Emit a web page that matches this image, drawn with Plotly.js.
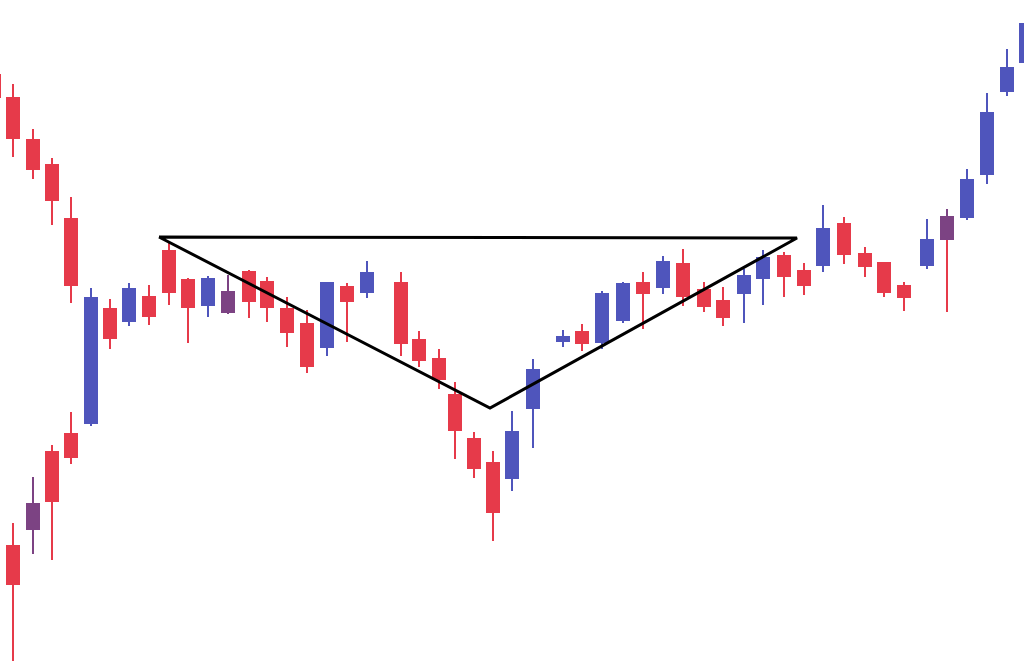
<!DOCTYPE html>
<html>
<head>
<meta charset="utf-8">
<script src="https://cdn.plot.ly/plotly-3.0.1.min.js"></script>
<style>html,body{margin:0;padding:0;background:#fff;}#chart{width:1024px;height:666px;}</style>
</head>
<body>
<div id="chart"></div>
<script>
// Red candles
const redX     = [-6, 13, 33, 52, 71, 13, 52, 71, 110, 149, 169, 188, 249, 267, 287, 307, 347, 401, 419, 439, 455, 474, 493, 582, 643, 683, 704, 723, 784, 804, 844, 865, 884, 904, 947];
const redOpen  = [591, 568, 526, 501, 447, 120, 214, 232, 357, 369, 415, 386, 394, 384, 357, 342, 379, 383, 326, 307, 271, 227, 203, 334, 383, 402, 376, 365, 410, 395, 442, 412, 403, 380, 438];
const redHigh  = [598, 582, 537, 508, 469, 143, 221, 254, 367, 381, 423, 388, 396, 389, 369, 356, 383, 394, 335, 317, 284, 234, 215, 342, 394, 417, 384, 379, 414, 403, 449, 419, 404, 384, 438];
const redLow   = [561, 509, 487, 441, 363, 5, 106, 202, 317, 341, 361, 323, 348, 344, 319, 293, 324, 310, 299, 277, 207, 188, 125, 315, 337, 360, 354, 340, 369, 371, 402, 389, 369, 355, 354];
const redClose = [569, 528, 497, 466, 381, 82, 165, 209, 328, 350, 374, 359, 365, 359, 334, 300, 365, 323, 306, 287, 236, 198, 154, 323, 373, 370, 360, 349, 390, 381, 412, 400, 374, 369, 438];

// Blue candles
const blueX     = [91, 129, 208, 327, 367, 512, 533, 563, 602, 623, 663, 744, 763, 823, 927, 967, 987, 1007, 1026];
const blueOpen  = [243, 345, 361, 319, 374, 188, 258, 325, 324, 346, 379, 373, 388, 401, 401, 449, 492, 575, 604];
const blueHigh  = [378, 383, 390, 384, 405, 255, 307, 336, 375, 384, 410, 397, 416, 461, 447, 497, 573, 617, 651];
const blueLow   = [240, 340, 349, 310, 368, 175, 218, 319, 317, 343, 372, 343, 361, 394, 397, 446, 482, 570, 600];
const blueClose = [368, 377, 387, 383, 393, 234, 296, 329, 372, 382, 404, 390, 408, 437, 426, 486, 553, 598, 642];

// Purple candles
const purpleX     = [33, 228, 947];
const purpleOpen  = [137, 354, 427];
const purpleHigh  = [189, 391, 457];
const purpleLow   = [112, 352, 427];
const purpleClose = [162, 374, 449];

// Pattern outline (triangle)
const patternX = [159, 490, 797, 159];
const patternY = [429, 258, 428, 429];

const RED = '#e63a4a', BLUE = '#4f55bc', PURPLE = '#7c4383';

function candle(x, o, h, l, c, color) {
  return {
    type: 'candlestick', x: x, open: o, high: h, low: l, close: c,
    increasing: {line: {color: color, width: 2}, fillcolor: color},
    decreasing: {line: {color: color, width: 2}, fillcolor: color},
    whiskerwidth: 0, hoverinfo: 'skip', showlegend: false
  };
}

const data = [
  candle(redX, redOpen, redHigh, redLow, redClose, RED),
  candle(blueX, blueOpen, blueHigh, blueLow, blueClose, BLUE),
  candle(purpleX, purpleOpen, purpleHigh, purpleLow, purpleClose, PURPLE),
  {type: 'scatter', mode: 'lines', x: patternX, y: patternY,
   line: {color: '#000', width: 3}, hoverinfo: 'skip', showlegend: false}
];

const layout = {
  width: 1024, height: 666,
  margin: {l: 0, r: 0, t: 0, b: 0, pad: 0},
  paper_bgcolor: '#ffffff', plot_bgcolor: '#ffffff',
  showlegend: false,
  boxgap: 0.25, boxgroupgap: 0,
  xaxis: {range: [0, 1024], visible: false, rangeslider: {visible: false}, fixedrange: true},
  yaxis: {range: [0, 666], visible: false, fixedrange: true}
};

Plotly.newPlot('chart', data, layout, {displayModeBar: false, staticPlot: true});
</script>
</body>
</html>
